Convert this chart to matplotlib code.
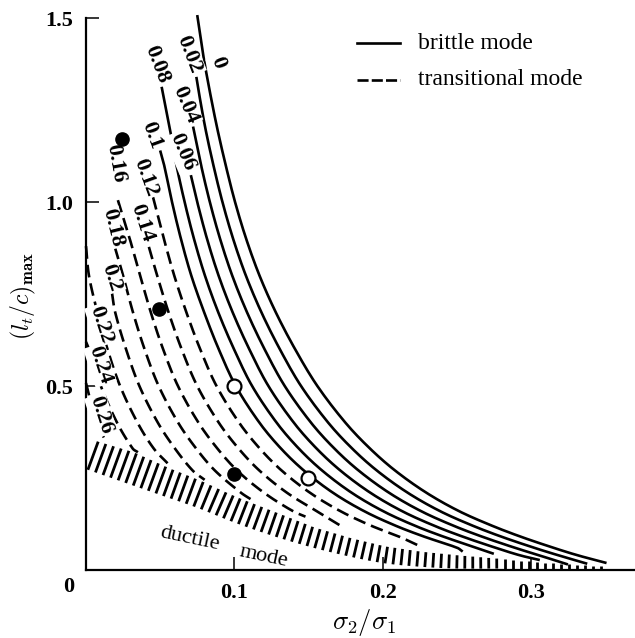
import numpy as np
import matplotlib
matplotlib.use("Agg")
import matplotlib.pyplot as plt

plt.rcParams["mathtext.fontset"] = "cm"

# ---- data -------------------------------------------------------------
# contour lines of (l_t/c)_max against sigma2/sigma1, one list of (x, y) per label value
k000 = [(0.075, 1.508), (0.079, 1.40), (0.0835, 1.30), (0.0885, 1.20), (0.0942, 1.10),
        (0.1005, 1.00), (0.108, 0.90), (0.117, 0.80), (0.128, 0.70), (0.141, 0.60),
        (0.156, 0.50), (0.175, 0.40), (0.1915, 0.33), (0.2085, 0.27), (0.2295, 0.21),
        (0.2515, 0.16), (0.274, 0.12), (0.2935, 0.09), (0.3155, 0.06), (0.3315, 0.04),
        (0.351, 0.019)]
k002 = [(0.0744, 1.34), (0.076, 1.30), (0.0805, 1.20), (0.0859, 1.10), (0.092, 1.00),
        (0.0992, 0.90), (0.1078, 0.80), (0.1183, 0.70), (0.1307, 0.60), (0.145, 0.50),
        (0.1634, 0.40), (0.1795, 0.33), (0.1962, 0.27), (0.2169, 0.21), (0.2387, 0.16),
        (0.261, 0.12), (0.2805, 0.09), (0.3025, 0.06), (0.3185, 0.04), (0.338, 0.017)]
k004 = [(0.0722, 1.205), (0.0776, 1.10), (0.0835, 1.00), (0.0904, 0.90), (0.0986, 0.80),
        (0.1086, 0.70), (0.1204, 0.60), (0.134, 0.50), (0.1518, 0.40), (0.1675, 0.33),
        (0.1839, 0.27), (0.2043, 0.21), (0.2259, 0.16), (0.248, 0.12), (0.2675, 0.09),
        (0.2895, 0.06), (0.3055, 0.04), (0.325, 0.015)]
k006 = [(0.0707, 1.073), (0.075, 1.00), (0.0816, 0.90), (0.0894, 0.80), (0.0989, 0.70),
        (0.1101, 0.60), (0.123, 0.50), (0.1402, 0.40), (0.1555, 0.33), (0.1716, 0.27),
        (0.1917, 0.21), (0.2131, 0.16), (0.235, 0.12), (0.2545, 0.09), (0.2765, 0.06),
        (0.2925, 0.04), (0.306, 0.027)]
k008 = [(0.051, 1.313), (0.0565, 1.20), (0.061, 1.10), (0.0665, 1.00), (0.0728, 0.90),
        (0.0802, 0.80), (0.0892, 0.70), (0.0998, 0.60), (0.112, 0.50), (0.1286, 0.40),
        (0.1435, 0.33), (0.1593, 0.27), (0.1791, 0.21), (0.2003, 0.16), (0.222, 0.12),
        (0.2415, 0.09), (0.2635, 0.06), (0.275, 0.044)]
k010 = [(0.050, 1.14), (0.0527, 1.10), (0.058, 1.00), (0.064, 0.90), (0.071, 0.80),
        (0.0797, 0.70), (0.0895, 0.60), (0.101, 0.50), (0.117, 0.40), (0.1315, 0.33),
        (0.147, 0.27), (0.1665, 0.21), (0.1875, 0.16), (0.209, 0.12), (0.2285, 0.09),
        (0.2505, 0.06), (0.254, 0.050)]
k012 = [(0.0452, 1.013), (0.0525, 0.90), (0.0595, 0.80), (0.0677, 0.70), (0.077, 0.60),
        (0.088, 0.50), (0.1033, 0.40), (0.1172, 0.33), (0.132, 0.27), (0.151, 0.21),
        (0.1715, 0.16), (0.1925, 0.12), (0.2115, 0.09), (0.225, 0.065)]
k014 = [(0.0424, 0.878), (0.048, 0.80), (0.0557, 0.70), (0.0645, 0.60), (0.075, 0.50),
        (0.0896, 0.40), (0.1029, 0.33), (0.117, 0.27), (0.1355, 0.21), (0.1555, 0.16),
        (0.173, 0.117)]
k016 = [(0.0215, 1.005), (0.0295, 0.90), (0.0365, 0.80), (0.0437, 0.70), (0.052, 0.60),
        (0.062, 0.50), (0.0759, 0.40), (0.0886, 0.33), (0.102, 0.27), (0.120, 0.21),
        (0.1395, 0.16), (0.148, 0.145)]
k018 = [(0.0194, 0.878), (0.025, 0.80), (0.0317, 0.70), (0.0395, 0.60), (0.049, 0.50),
        (0.0622, 0.40), (0.0743, 0.33), (0.087, 0.27), (0.1045, 0.21), (0.112, 0.19)]
k020 = [(0.0175, 0.753), (0.0197, 0.70), (0.027, 0.60), (0.036, 0.50), (0.0485, 0.40),
        (0.060, 0.33), (0.072, 0.27), (0.080, 0.245)]
k022 = [(0.000, 0.88), (0.002, 0.80), (0.0077, 0.70), (0.0145, 0.60), (0.023, 0.50),
        (0.0348, 0.40), (0.0457, 0.33), (0.055, 0.29)]
k024 = [(0.000, 0.62), (0.002, 0.60), (0.010, 0.50), (0.021, 0.40), (0.0315, 0.33),
        (0.035, 0.32)]
k026 = [(0.000, 0.508), (0.007, 0.40), (0.012, 0.36)]

brittle_curves = [k000, k002, k004, k006, k008, k010]
transitional_curves = [k012, k014, k016, k018, k020, k022, k024, k026]

# curve labels: text, position, rotation
label_text = ["0", "0.02", "0.04", "0.06", "0.08", "0.1", "0.12", "0.14",
              "0.16", "0.18", "0.2", "0.22", "0.24", "0.26"]
label_x = [0.089, 0.0695, 0.0668, 0.0647, 0.0479, 0.0445, 0.040, 0.038,
           0.0196, 0.018, 0.017, 0.0101, 0.0094, 0.010]
label_y = [1.380, 1.40, 1.264, 1.136, 1.375, 1.182, 1.065, 0.943,
           1.106, 0.929, 0.793, 0.666, 0.557, 0.421]
label_rot = [-70, -69, -67, -67, -69, -70, -70, -72,
             -80, -76, -72, -72, -72, -72]

# measured points
filled_x = [0.024, 0.049, 0.100]
filled_y = [1.17, 0.71, 0.26]
open_x = [0.100, 0.150]
open_y = [0.50, 0.25]

# ductile region: lower and upper edge of the hatched band
duct_x = [0.000, 0.025, 0.050, 0.075, 0.100, 0.125, 0.150, 0.175, 0.200, 0.225,
          0.250, 0.280, 0.310, 0.350]
duct_lo = [0.270, 0.235, 0.200, 0.165, 0.125, 0.090, 0.060, 0.035, 0.015, 0.005,
           0.000, 0.000, 0.000, 0.000]
duct_hi = [0.360, 0.330, 0.285, 0.245, 0.200, 0.160, 0.120, 0.090, 0.065, 0.050,
           0.040, 0.030, 0.020, 0.010]

# ---- figure -------------------------------------------------------------
W, H = 635, 638
PX_X = 1483.0   # pixels per unit of sigma2/sigma1
PX_Y = 368.0    # pixels per unit of (l_t/c)_max
x_left, y_base = 86, 570
ymax = 1.53
xmax = (W - x_left) / PX_X

fig = plt.figure(figsize=(W / 100, H / 100), dpi=100)
ax = fig.add_axes([x_left / W, (H - y_base) / H, (W - x_left) / W, PX_Y * ymax / H])
ax.set_xlim(0, xmax)
ax.set_ylim(0, ymax)

for s in ("top", "right"):
    ax.spines[s].set_visible(False)
ax.spines["left"].set_bounds(0, 1.5)
for s in ("left", "bottom"):
    ax.spines[s].set_linewidth(1.6)

serif_b = dict(family="Liberation Serif", weight="bold")
ax.set_xticks([0.1, 0.2, 0.3])
ax.set_xticklabels(["0.1", "0.2", "0.3"], fontsize=16, **serif_b)
ax.set_yticks([0.5, 1.0, 1.5])
ax.set_yticklabels(["0.5", "1.0", "1.5"], fontsize=16, **serif_b)
ax.tick_params(direction="in", length=9.5, width=1.1, pad=9)
ax.text(-0.012, -0.046, "0", ha="center", va="center", fontsize=16,
        clip_on=False, **serif_b)


def smooth(pts, n=12):
    """Chord-length Catmull-Rom path through the given points."""
    p = np.array(pts, dtype=float)
    q = p * np.array([PX_X, PX_Y])
    if len(q) < 3:
        return p[:, 0], p[:, 1]
    d = np.r_[0, np.cumsum(np.hypot(*np.diff(q, axis=0).T))]
    m = np.zeros_like(q)
    m[1:-1] = (q[2:] - q[:-2]) / (d[2:] - d[:-2])[:, None]
    m[0] = (q[1] - q[0]) / (d[1] - d[0])
    m[-1] = (q[-1] - q[-2]) / (d[-1] - d[-2])
    out = []
    for i in range(len(q) - 1):
        h = d[i + 1] - d[i]
        t = np.linspace(0, 1, n, endpoint=False)[:, None]
        h00 = 2 * t**3 - 3 * t**2 + 1
        h10 = t**3 - 2 * t**2 + t
        h01 = -2 * t**3 + 3 * t**2
        h11 = t**3 - t**2
        out.append(h00 * q[i] + h10 * h * m[i] + h01 * q[i + 1] + h11 * h * m[i + 1])
    out.append(q[-1:])
    r = np.vstack(out) / np.array([PX_X, PX_Y])
    return r[:, 0], r[:, 1]


LW = 1.9
for c in brittle_curves:
    xs, ys = smooth(c)
    ax.plot(xs, ys, color="black", lw=LW, solid_capstyle="butt", clip_on=False, zorder=3)
for c in transitional_curves:
    xs, ys = smooth(c)
    ax.plot(xs, ys, color="black", lw=LW, dashes=(4.8, 2.3), clip_on=False, zorder=3)

for t, x, y, r in zip(label_text, label_x, label_y, label_rot):
    ax.text(x, y, t, rotation=r, rotation_mode="anchor", ha="center", va="center",
            fontsize=16, zorder=5,
            bbox=dict(boxstyle="square,pad=0.05", fc="white", ec="none"), **serif_b)

ax.plot(filled_x, filled_y, "o", ms=9.5, color="black", zorder=6, clip_on=False)
ax.plot(open_x, open_y, "o", ms=10, mfc="white", mec="black", mew=1.6, zorder=6)

# hatched band of the ductile region, strokes drawn normal to its lower edge
bx, blo = smooth(list(zip(duct_x, duct_lo)), n=40)
bhi = np.interp(bx, np.array(duct_x), np.array(duct_hi))
P = np.c_[bx * PX_X, blo * PX_Y]
seg = np.r_[0, np.cumsum(np.hypot(*np.diff(P, axis=0).T))]
for s in np.arange(2.0, seg[-1], 8.0):
    px, py = np.interp(s, seg, P[:, 0]), np.interp(s, seg, P[:, 1])
    j = min(np.searchsorted(seg, s), len(seg) - 1)
    j0 = max(j - 1, 0)
    tx, ty = P[j, 0] - P[j0, 0], P[j, 1] - P[j0, 1]
    nrm = np.hypot(tx, ty) or 1.0
    tx, ty = tx / nrm, ty / nrm
    nx, ny = -ty, tx
    if ny < 0:
        nx, ny = -nx, -ny
    gap = (np.interp(px / PX_X, bx, bhi) - py / PX_Y) * PX_Y
    L = gap * abs(tx)
    x0, y0 = px / PX_X, py / PX_Y + 0.004
    x1, y1 = (px + nx * L) / PX_X, (py + ny * L) / PX_Y
    ax.plot([x0, x1], [y0, y1], color="black", lw=2.0, solid_capstyle="butt", zorder=2)

ax.text(0.0701, 0.084, "ductile", rotation=-12, ha="center", va="center",
        fontsize=16, family="Liberation Serif")
ax.text(0.120, 0.035, "mode", rotation=-12, ha="center", va="center",
        fontsize=16, family="Liberation Serif")

# legend
ax.plot([0.1827, 0.2117], [1.432, 1.432], color="black", lw=LW, clip_on=False)
ax.plot([0.1827, 0.2117], [1.332, 1.332], color="black", lw=LW,
        dashes=(4.2, 1.2), clip_on=False)
ax.text(0.2239, 1.432, "brittle mode", va="center", ha="left", fontsize=17,
        family="Liberation Serif")
ax.text(0.2239, 1.332, "transitional mode", va="center", ha="left", fontsize=17,
        family="Liberation Serif")

# axis titles
ax.text(-0.0425, 0.745, r"$(l_t/c)_{\mathbf{max}}$", rotation=90, ha="center",
        va="center", fontsize=17, clip_on=False)
ax.text(0.1875, -0.144, r"$\sigma_2/\sigma_1$", ha="center", va="center",
        fontsize=19, clip_on=False)

fig.savefig("out.png", dpi=100)
